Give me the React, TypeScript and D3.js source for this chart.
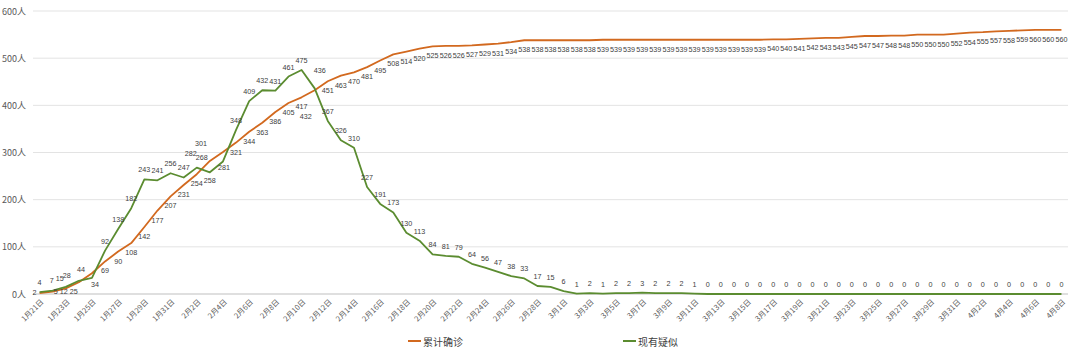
import React from "react";
import * as d3 from "d3";

const dates: string[] = [
  "1月21日","1月22日","1月23日","1月24日","1月25日","1月26日","1月27日","1月28日","1月29日","1月30日","1月31日",
  "2月1日","2月2日","2月3日","2月4日","2月5日","2月6日","2月7日","2月8日","2月9日","2月10日",
  "2月11日","2月12日","2月13日","2月14日","2月15日","2月16日","2月17日","2月18日","2月19日","2月20日",
  "2月21日","2月22日","2月23日","2月24日","2月25日","2月26日","2月27日","2月28日","2月29日",
  "3月1日","3月2日","3月3日","3月4日","3月5日","3月6日","3月7日","3月8日","3月9日","3月10日",
  "3月11日","3月12日","3月13日","3月14日","3月15日","3月16日","3月17日","3月18日","3月19日","3月20日",
  "3月21日","3月22日","3月23日","3月24日","3月25日","3月26日","3月27日","3月28日","3月29日","3月30日","3月31日",
  "4月1日","4月2日","4月3日","4月4日","4月5日","4月6日","4月7日","4月8日",
];

const confirmed: number[] = [
  2, 5, 12, 25, 44, 69, 90, 108, 142, 177,
  207, 231, 254, 282, 301, 321, 344, 363, 386, 405,
  417, 432, 451, 463, 470, 481, 495, 508, 514, 520,
  525, 526, 526, 527, 529, 531, 534, 538, 538, 538,
  538, 538, 538, 539, 539, 539, 539, 539, 539, 539,
  539, 539, 539, 539, 539, 539, 540, 540, 541, 542,
  543, 543, 545, 547, 547, 548, 548, 550, 550, 550,
  552, 554, 555, 557, 558, 559, 560, 560, 560,
];

const suspected: number[] = [
  4, 7, 15, 28, 34, 92, 138, 182, 243, 241,
  256, 247, 268, 258, 281, 348, 409, 432, 431, 461,
  475, 436, 367, 326, 310, 227, 191, 173, 130, 113,
  84, 81, 79, 64, 56, 47, 38, 33, 17, 15,
  6, 1, 2, 1, 2, 2, 3, 2, 2, 2,
  1, 0, 0, 0, 0, 0, 0, 0, 0, 0,
  0, 0, 0, 0, 0, 0, 0, 0, 0, 0,
  0, 0, 0, 0, 0, 0, 0, 0, 0,
];

const yTicks: number[] = [0, 100, 200, 300, 400, 500, 600];

const seriesNames = ["累计确诊", "现有疑似"];

// label placement tweaks (offsets from point, px)
const confirmedLabelOffsets: Record<number, [number, number]> = {
  0: [-5, -1], 1: [3, 0], 2: [-2, 3], 3: [-5, 9], 4: [-11, -4],
  13: [-19, -7], 14: [-22, -9], 20: [0, 9], 21: [-9, 26],
};
const suspectedLabelOffsets: Record<number, [number, number]> = {
  1: [-1, -10], 2: [-6, -8], 3: [-12, -5], 4: [3, 7], 12: [5, -10], 13: [0, 8], 14: [1, 6], 21: [5, -18],
};

const ORANGE = "#d2691f";
const GREEN = "#5b8c30";
const FONT = "'Noto Sans CJK SC', 'Noto Sans', sans-serif";
const LABEL_FONT = "'Liberation Sans', Arial, sans-serif";

export default function App() {
  const W = 1080, H = 355;
  const left = 33, right = 1068, top = 11, bottom = 294;
  const x = d3.scaleBand<number>().domain(d3.range(dates.length)).range([left, right]);
  const cx = (i: number) => (x(i) as number) + x.bandwidth() / 2;
  const y = d3.scaleLinear().domain([0, 600]).range([bottom, top]);

  const line = d3.line<number>().x((_, i) => cx(i)).y((d) => y(d));

  return (
    <div style={{ position: "fixed", left: 0, top: 0 }}>
      <svg width={W} height={H} style={{ display: "block", background: "#fff" }} fontFamily={FONT}>
        {yTicks.map((t) => (
          <g key={t}>
            {t > 0 && (
              <line x1={left} x2={right} y1={y(t)} y2={y(t)} stroke="#e3e3e3" strokeWidth={1} />
            )}
            <text x={26} y={y(t)} textAnchor="end" dominantBaseline="central" fontSize={9} fill="#595959">
              {t}人
            </text>
          </g>
        ))}
        <line x1={left} x2={right} y1={bottom} y2={bottom} stroke="#bfbfbf" strokeWidth={1} />
        {dates.map((d, i) =>
          i % 2 === 0 ? (
            <text
              key={d}
              transform={`translate(${cx(i) + 2},${bottom + 6}) rotate(-45)`}
              textAnchor="end"
              dominantBaseline="central"
              fontSize={7.5}
              fill="#595959"
            >
              {d}
            </text>
          ) : null
        )}
        <path d={line(confirmed) || ""} fill="none" stroke={ORANGE} strokeWidth={1.8} strokeLinejoin="round" />
        <path d={line(suspected) || ""} fill="none" stroke={GREEN} strokeWidth={1.8} strokeLinejoin="round" />
        <g fontFamily={LABEL_FONT} fontSize={7.2} fill="#404040">
          {confirmed.map((v, i) => {
            const off = confirmedLabelOffsets[i] || [0, 9.5];
            return (
              <text key={"c" + i} x={cx(i) + off[0]} y={y(v) + off[1]} textAnchor="middle" dominantBaseline="central">
                {v}
              </text>
            );
          })}
          {suspected.map((v, i) => {
            const off = suspectedLabelOffsets[i] || [0, -9.5];
            return (
              <text key={"s" + i} x={cx(i) + off[0]} y={y(v) + off[1]} textAnchor="middle" dominantBaseline="central">
                {v}
              </text>
            );
          })}
        </g>
        {[ORANGE, GREEN].map((c, k) => {
          const lx = k === 0 ? 408 : 623;
          return (
            <g key={c}>
              <line x1={lx} x2={lx + 13} y1={341} y2={341} stroke={c} strokeWidth={2} />
              <text x={lx + 15} y={341} dominantBaseline="central" fontSize={10} fill="#404040">
                {seriesNames[k]}
              </text>
            </g>
          );
        })}
      </svg>
    </div>
  );
}
